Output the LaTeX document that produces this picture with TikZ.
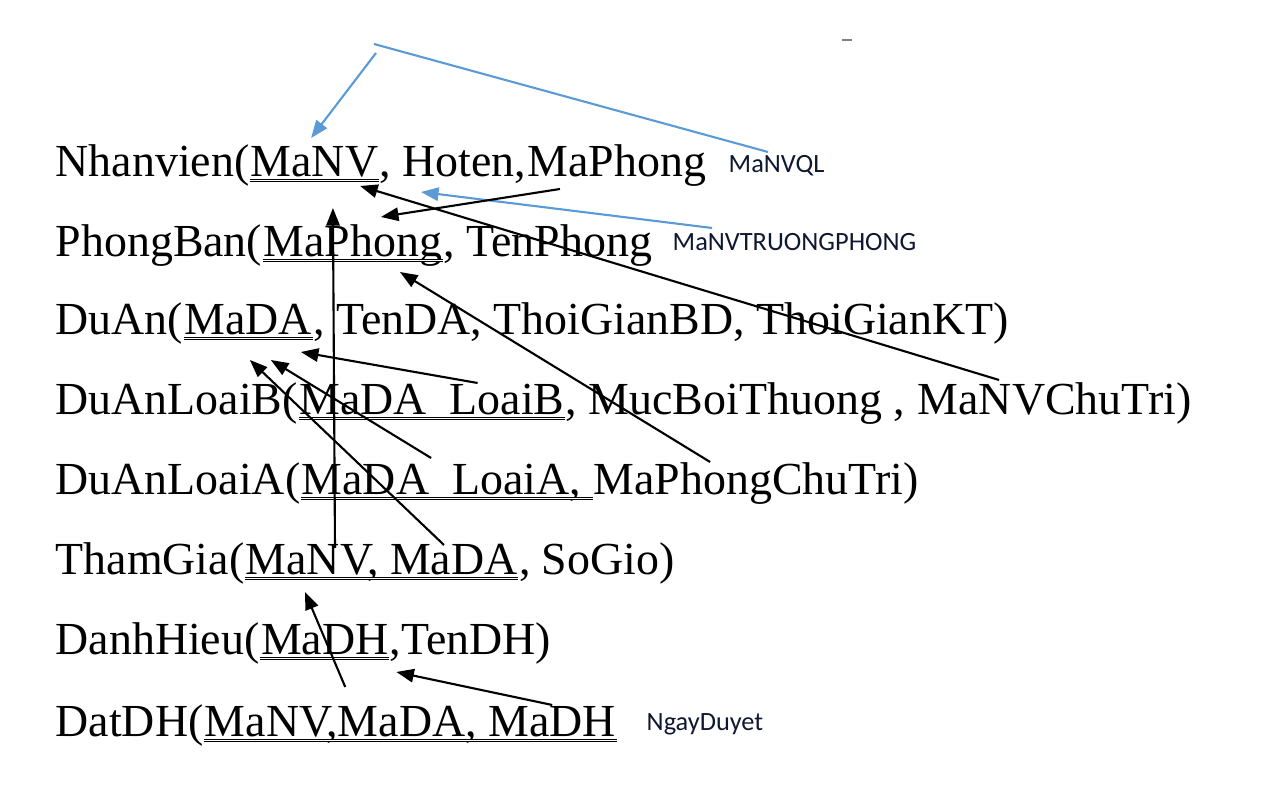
\documentclass[tikz,border=0pt]{standalone}
\usepackage{fontspec}
\setmainfont{Liberation Serif}
\newfontfamily\notefont{Carlito}
\usetikzlibrary{arrows.meta}

\definecolor{fkblue}{RGB}{91,155,213}
\definecolor{notecol}{RGB}{16,24,48}

\tikzset{
  rel/.style={inner sep=0pt, anchor=base west, font=\fontsize{13.05}{16}\selectfont},
  note/.style={inner sep=0pt, anchor=base west, text=notecol, font=\notefont\fontsize{7.5}{9}\selectfont},
  keyline/.style={double, double distance=0.35pt, line width=0.38pt},
  fk/.style={line width=0.6pt, -{Triangle[length=5pt, width=3.8pt]}},
  fkb/.style={fk, draw=fkblue, fill=fkblue},
}

\begin{document}
\begin{tikzpicture}[x=0.01cm, y=-0.01cm]
\useasboundingbox (0,0) rectangle (1261,792);

\node[rel] (n1a) at (55,177) {Nhanvien(};
\node[rel] (n1k) at (n1a.base east) {MaNV};
\node[rel] (n1b) at (n1k.base east) {, Hoten,};
\node[rel] (n1p) at (n1b.base east) {MaPhong};

\node[rel] (n2a) at (55,257) {PhongBan(};
\node[rel] (n2k) at (n2a.base east) {MaPhong};
\node[rel] (n2b) at (n2k.base east) {, TenPhong};

\node[rel] (n3a) at (55,335) {DuAn(};
\node[rel] (n3k) at (n3a.base east) {MaDA};
\node[rel] (n3b) at (n3k.base east) {, TenDA, ThoiGianBD, ThoiGianKT)};

\node[rel] (n4a) at (55,415) {DuAnLoaiB(};
\node[rel] (n4k) at (n4a.base east) {MaDA\_LoaiB};
\node[rel] (n4b) at (n4k.base east) {, MucBoiThuong ,\kern.25em};
\node[rel] (n4c) at (n4b.base east) {MaNVChuTri)};

\node[rel] (n5a) at (55,495) {DuAnLoaiA(};
\node[rel] (n5k) at (n5a.base east) {MaDA\_LoaiA,\kern.25em};
\node[rel] (n5p) at (n5k.base east) {MaPhongChuTri)};

\node[rel] (n6a) at (55,575) {ThamGia(};
\node[rel] (n6k) at (n6a.base east) {MaNV, MaDA};
\node[rel] (n6b) at (n6k.base east) {, SoGio)};

\node[rel] (n7a) at (55,655) {DanhHieu(};
\node[rel] (n7k) at (n7a.base east) {MaDH};
\node[rel] (n7b) at (n7k.base east) {,TenDH)};

\node[rel] (n8a) at (55,737) {DatDH(};
\node[rel] (n8k) at (n8a.base east) {MaNV,MaDA, MaDH};

\foreach \k in {n1k,n2k,n3k,n4k,n5k,n6k,n7k,n8k}
  \draw[keyline] ([yshift=-1pt]\k.base west) -- ([yshift=-1pt]\k.base east);

\node[note] (ql) at (728,173) {MaNVQL};
\node[note] (tp) at (672,251) {MaNVTRUONGPHONG};
\node[note] (nd) at (646,731) {NgayDuyet};

\draw[gray, line width=0.8pt] (842,40) -- (852,40);

% blue links
\coordinate (qbend) at (374,44);
\draw[line width=0.6pt, fkblue] ([shift={(40,-21)}]ql.base west) -- (qbend);
\draw[fkb] ([shift={(2,9)}]qbend) -- ([shift={(61,-39)}]n1k.base west);
\draw[fkb] ([shift={(40,-23)}]tp.base west) -- ([shift={(42,15)}]n1b.base west);

% black links
\draw[fk] ([shift={(33,12)}]n1p.base west) -- ([shift={(118,-40)}]n2k.base west);
\draw[fk] ([shift={(82,-35)}]n4c.base west) -- ([shift={(110,9)}]n1k.base west);
\draw[fk] ([shift={(90,-27)}]n6k.base west) -- ([shift={(70,-49)}]n2k.base west);
\draw[fk] ([shift={(117,-33)}]n5p.base west) -- ([shift={(137,15)}]n2k.base west);
\draw[fk] ([shift={(179,-32)}]n4k.base west) -- ([shift={(117,17)}]n3k.base west);
\draw[fk] ([shift={(130,-37)}]n5k.base west) -- ([shift={(87,25)}]n3k.base west);
\draw[fk] ([shift={(199,-30)}]n6k.base west) -- ([shift={(66,25)}]n3k.base west);
\draw[fk] ([shift={(141,-50)}]n8k.base west) -- ([shift={(60,17)}]n6k.base west);
\draw[fk] ([shift={(348,-32)}]n8k.base west) -- ([shift={(136,17)}]n7k.base west);
\end{tikzpicture}
\end{document}
